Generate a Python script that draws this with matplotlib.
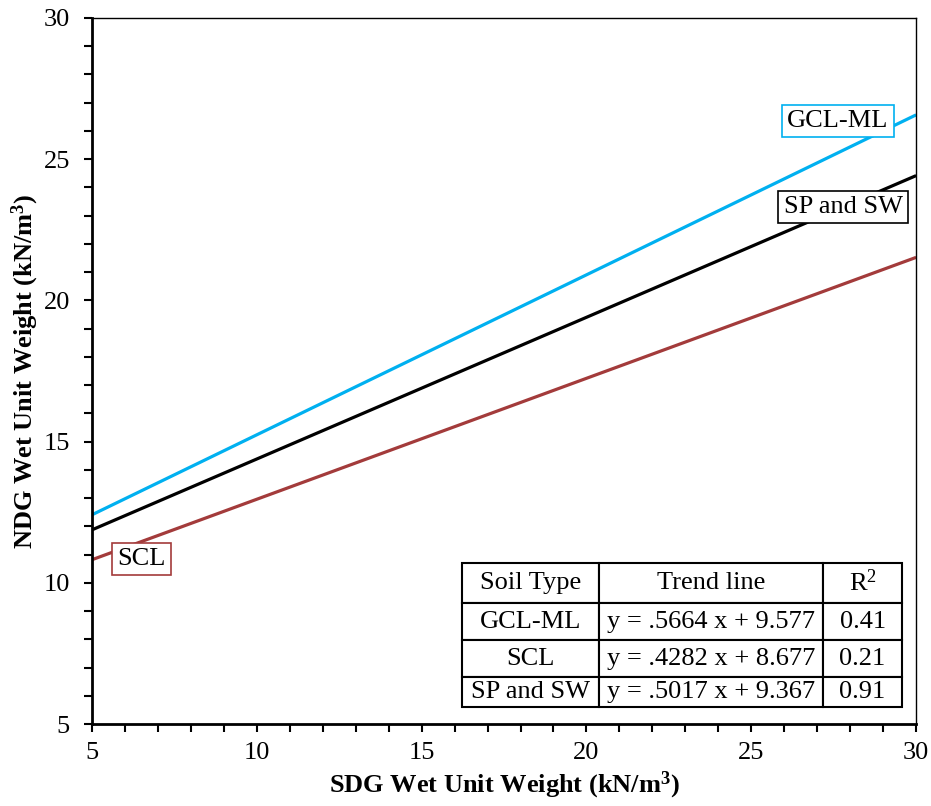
import matplotlib
matplotlib.use("Agg")
import matplotlib.pyplot as plt
import numpy as np
from matplotlib.ticker import MultipleLocator

plt.rcParams['font.family'] = ['Liberation Serif', 'DejaVu Serif']
plt.rcParams['mathtext.default'] = 'regular'

# trend lines: y = slope * x + intercept
soil_types = ["GCL-ML", "SCL", "SP and SW"]
slopes = [0.5664, 0.4282, 0.5017]
intercepts = [9.577, 8.677, 9.367]
r_squared = ["0.41", "0.21", "0.91"]
trend_text = ["y = .5664 x + 9.577", "y = .4282 x + 8.677", "y = .5017 x + 9.367"]
colors = ["#00B0F0", "#A33B3B", "#000000"]

# label boxes (data coords)
label_pos = [(27.63, 26.35), (6.49, 10.84), (27.79, 23.31)]

x_range = [5, 30]

fig = plt.figure(figsize=(9.31, 8.06), dpi=100)
ax = fig.add_axes([0.0988, 0.1017, 0.8852, 0.876])

x = np.array(x_range)
for name, m, b, c in zip(soil_types, slopes, intercepts, colors):
    ax.plot(x, m * x + b, color=c, lw=2.3, solid_capstyle='butt')

for name, c, (lx, ly) in zip(soil_types, colors, label_pos):
    ax.text(lx, ly, name, fontsize=19, ha='center', va='center',
            bbox=dict(boxstyle='square,pad=0.2', fc='white', ec=c, lw=1.2))

ax.set_xlim(5, 30)
ax.set_ylim(5, 30)
ax.xaxis.set_major_locator(MultipleLocator(5))
ax.xaxis.set_minor_locator(MultipleLocator(1))
ax.yaxis.set_major_locator(MultipleLocator(5))
ax.yaxis.set_minor_locator(MultipleLocator(1))
ax.tick_params(which='both', direction='out', length=6, width=1.5,
               labelsize=19, top=False, right=False)
ax.tick_params(axis='x', pad=7)
ax.tick_params(axis='y', pad=10)
for s in ['left', 'bottom']:
    ax.spines[s].set_linewidth(2)
for s in ['top', 'right']:
    ax.spines[s].set_linewidth(1)

ax.set_xlabel("SDG Wet Unit Weight (kN/m$^{3}$)", fontsize=19, fontweight='bold', labelpad=4)
ax.set_ylabel("NDG Wet Unit Weight (kN/m$^{3}$)", fontsize=19, fontweight='bold', labelpad=2)

cell_text = [["Soil Type", "Trend line", "R$^{2}$"]]
for name, t, r in zip(soil_types, trend_text, r_squared):
    cell_text.append([name, t, r])

tab = ax.table(cellText=cell_text, cellLoc='center',
               colWidths=[137, 224, 79],
               bbox=[0.4487, 0.0241, 0.5343, 0.2039])
tab.auto_set_font_size(False)
tab.set_fontsize(19)
row_h = [40, 38, 37, 30]
for (r, c), cell in tab.get_celld().items():
    cell.set_height(row_h[r])
    cell.set_linewidth(1.5)
    cell.set_edgecolor('black')

fig.savefig("out.png", dpi=100)
